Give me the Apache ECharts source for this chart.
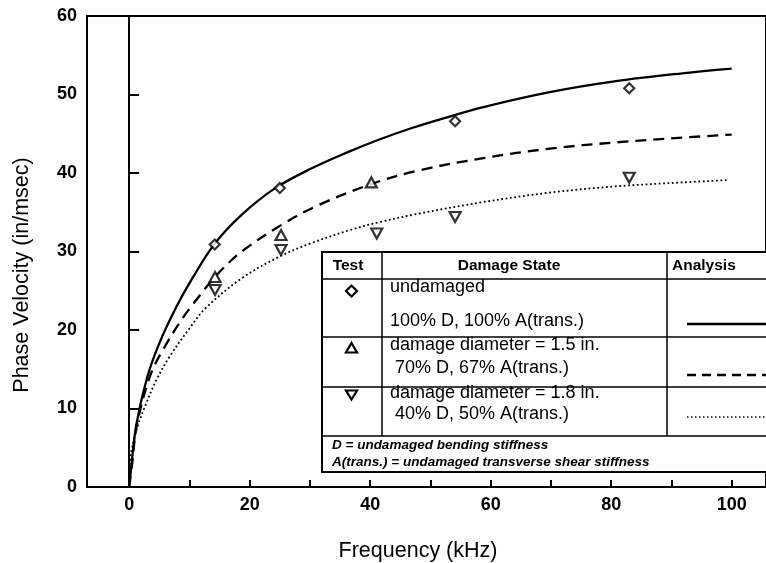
<!DOCTYPE html>
<html>
<head>
<meta charset="utf-8">
<script src="https://cdn.jsdelivr.net/npm/echarts@6/dist/echarts.min.js"></script>
<style>
  html, body { margin: 0; padding: 0; background: #fff; }
  #chart { width: 766px; height: 563px; }
</style>
</head>
<body>
<div id="chart"></div>
<script>
// analysis curves [frequency kHz, phase velocity in/msec]
const undamagedCurve = [[0, 0], [0.4, 3], [1.2, 8], [3, 14], [5, 18.3], [7.8, 22.9], [10.5, 26.6], [14.2, 31],
  [18.7, 34.7], [24.3, 38.1], [30.3, 40.6], [35.8, 42.5], [41.3, 44.2], [46.8, 45.7], [52.3, 47], [58.8, 48.4],
  [69.8, 50.3], [80.8, 51.7], [91.8, 52.7], [100, 53.3]]
const dia15Curve = [[0, 0], [0.5, 3], [1.3, 8], [3.6, 14.4], [6, 18], [8.6, 21.2], [10.5, 23.2], [14.4, 26.9],
  [18.7, 30], [25.3, 33.4], [31.4, 35.9], [40.2, 38.6], [47.9, 40.3], [58.8, 41.9], [69.8, 43.1], [80.8, 43.9],
  [91.8, 44.5], [100, 44.9]]
const dia18Curve = [[0, 0], [0.1, 3], [1.2, 7.2], [2.8, 10.6], [4.5, 13.6], [6.7, 16.6], [10, 20.2], [12.7, 22.8],
  [18.7, 26.6], [24.8, 29.3], [30, 31], [36.9, 32.8], [41.3, 33.7], [47.9, 34.8], [58.8, 36.3], [69.8, 37.5],
  [80.8, 38.3], [91.8, 38.8], [99.5, 39.1]]

// test points
const undamagedTest = [[14.2, 30.9], [25, 38.1], [54.1, 46.6], [83, 50.8]]
const dia15Test = [[14.25, 26.75], [25.2, 32.1], [40.2, 38.8]]
const dia18Test = [[14.25, 25.1], [25.2, 30.2], [41.1, 32.3], [54.1, 34.4], [83, 39.4]]

const xTicks = [0, 10, 20, 30, 40, 50, 60, 70, 80, 90, 100]
const xLabels = [0, 20, 40, 60, 80, 100]

const tableHeader = ['Test', 'Damage State', 'Analysis']
const damageLines = [
  ['undamaged', '100% D, 100% A(trans.)'],
  ['damage diameter = 1.5 in.', ' 70% D, 67% A(trans.)'],
  ['damage diameter = 1.8 in.', ' 40% D, 50% A(trans.)']
]
const footnotes = ['D = undamaged bending stiffness', 'A(trans.) = undamaged transverse shear stiffness']

const FONT = '"Liberation Sans", Arial, Helvetica, sans-serif'
const chart = echarts.init(document.getElementById('chart'))

function txt(x, y, text, size, weight, align, style) {
  return {
    type: 'text', x: x, y: y, z: 101,
    style: Object.assign({
      text: text, fontSize: size, fontWeight: weight || 'normal', fontFamily: FONT,
      fill: '#000', align: align || 'left', verticalAlign: 'middle'
    }, style || {})
  }
}
function ln(x1, y1, x2, y2, w, dash) {
  return {
    type: 'line', z: 101,
    shape: { x1: x1, y1: y1, x2: x2, y2: y2 },
    style: { stroke: '#000', lineWidth: w, lineDash: dash || null }
  }
}
function poly(points) {
  return {
    type: 'polygon', z: 101,
    shape: { points: points },
    style: { fill: '#fff', stroke: '#000', lineWidth: 2.2 }
  }
}

const yTitle = txt(22, 275, 'Phase Velocity (in/msec)', 21.5, 'normal', 'center')
yTitle.rotation = Math.PI / 2

const graphics = [
  yTitle,
  txt(418, 551, 'Frequency (kHz)', 21.5, 'normal', 'center'),
  // legend table
  {
    type: 'rect', z: 100,
    shape: { x: 322, y: 252, width: 520, height: 220 },
    style: { fill: '#fff', stroke: '#000', lineWidth: 2 }
  },
  ln(322, 279, 800, 279, 1.5),
  ln(322, 337, 800, 337, 1.5),
  ln(322, 387, 800, 387, 1.5),
  ln(322, 436, 800, 436, 1.5),
  ln(382, 252, 382, 436, 1.5),
  ln(667, 252, 667, 436, 1.5),
  txt(348, 266, tableHeader[0], 15.5, 'bold', 'center'),
  txt(509, 266, tableHeader[1], 15.5, 'bold', 'center'),
  txt(672, 266, tableHeader[2], 15.5, 'bold', 'left'),
  poly([[351.5, 285.5], [357, 291], [351.5, 296.5], [346, 291]]),
  poly([[351.5, 343], [357, 352.5], [346, 352.5]]),
  poly([[346, 390.5], [357, 390.5], [351.5, 399.5]]),
  ln(687, 324, 800, 324, 2.3),
  ln(687, 375, 800, 375, 2.3, [9, 6]),
  ln(687, 417, 800, 417, 1.5, [1.5, 2.5]),
  txt(332, 445, footnotes[0], 13.5, 'bold', 'left', { fontStyle: 'italic' }),
  txt(332, 462, footnotes[1], 13.5, 'bold', 'left', { fontStyle: 'italic' })
]

const rowY = [[287, 321], [345, 368], [393, 414]]
damageLines.forEach(function (row, i) {
  graphics.push(txt(390, rowY[i][0], row[0], 18, 'normal', 'left'))
  graphics.push(txt(390, rowY[i][1], row[1], 18, 'normal', 'left'))
})

const lineBase = { type: 'line', smooth: 0.35, showSymbol: false, symbol: 'none', silent: true, z: 3 }
const markBase = { type: 'scatter', itemStyle: { color: '#fff', borderColor: '#000', borderWidth: 2.2 }, z: 4 }

chart.setOption({
  animation: false,
  backgroundColor: '#fff',
  grid: { left: 87, right: -5, top: 16, bottom: 76, show: true, borderColor: '#000', borderWidth: 2 },
  xAxis: {
    type: 'value', min: -7, max: 105.7,
    splitLine: { show: false },
    axisLine: { onZero: false, lineStyle: { color: '#000', width: 2 } },
    axisTick: { inside: true, length: 7, lineStyle: { color: '#000', width: 2 }, customValues: xTicks },
    axisLabel: { customValues: xLabels, color: '#000', fontSize: 18, fontWeight: 'bold', fontFamily: FONT, margin: 9 }
  },
  yAxis: {
    type: 'value', min: 0, max: 60, interval: 10,
    splitLine: { show: false },
    axisLine: { lineStyle: { color: '#000', width: 2 } },
    axisTick: { inside: true, length: 10, lineStyle: { color: '#000', width: 2 } },
    axisLabel: { color: '#000', fontSize: 18, fontWeight: 'bold', fontFamily: FONT, margin: 10 }
  },
  graphic: graphics,
  series: [
    Object.assign({}, lineBase, {
      name: 'undamaged', data: undamagedCurve,
      lineStyle: { color: '#000', width: 2.3 },
      markLine: {
        silent: true, symbol: 'none', label: { show: false },
        lineStyle: { color: '#000', width: 2, type: 'solid' },
        data: [{ xAxis: 0 }]
      }
    }),
    Object.assign({}, lineBase, {
      name: '1.5 in', data: dia15Curve,
      lineStyle: { color: '#000', width: 2.3, type: [11, 7] }
    }),
    Object.assign({}, lineBase, {
      name: '1.8 in', data: dia18Curve,
      lineStyle: { color: '#000', width: 1.8, type: [1.8, 2.6] }
    }),
    Object.assign({}, markBase, { name: 'undamaged test', symbol: 'diamond', symbolSize: [10, 10], data: undamagedTest }),
    Object.assign({}, markBase, { name: '1.5 in test', symbol: 'triangle', symbolSize: [11, 10], data: dia15Test }),
    Object.assign({}, markBase, { name: '1.8 in test', symbol: 'triangle', symbolRotate: 180, symbolSize: [11, 10], data: dia18Test })
  ]
})
</script>
</body>
</html>
